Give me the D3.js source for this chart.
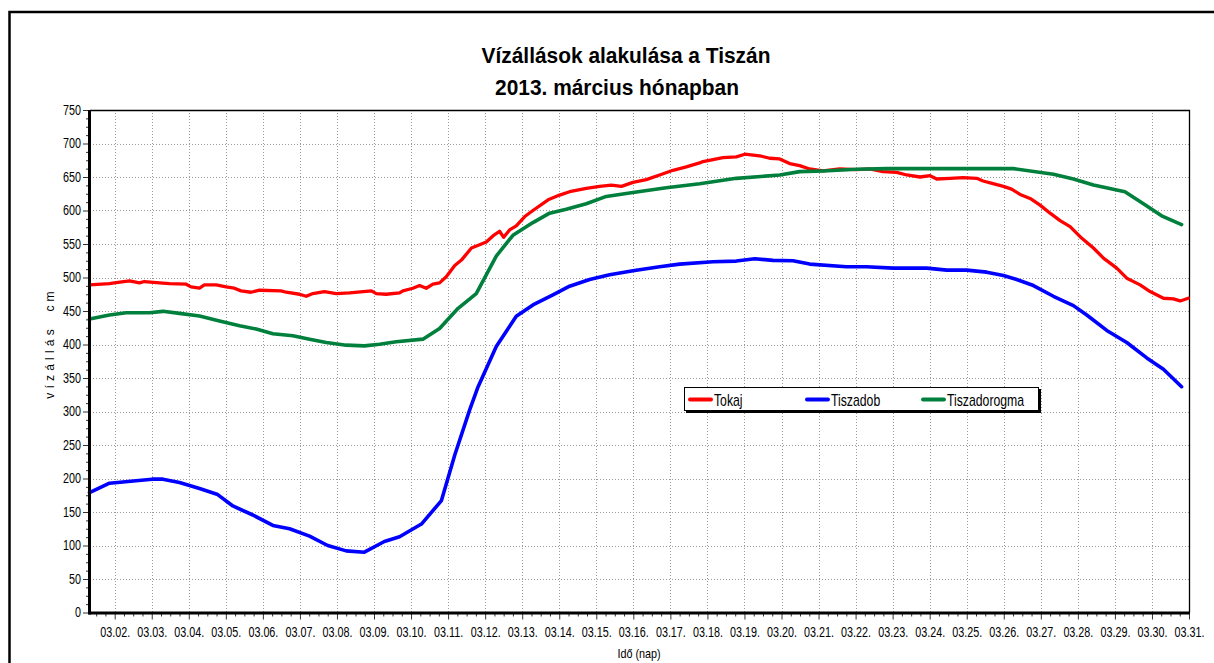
<!DOCTYPE html>
<html><head><meta charset="utf-8">
<script src="https://cdn.jsdelivr.net/npm/d3@7"></script>
<style>
body{margin:0;background:#fff;}
svg text{font-family:"Liberation Sans", Arial, sans-serif;fill:#000;}
</style></head>
<body><svg id="chart" width="1214" height="663"></svg>
<script>
// ---------------- data ----------------
const titleLines = ["Vízállások alakulása a Tiszán", "2013. március hónapban"];
const xAxisTitle = "Idő (nap)";
const yAxisTitle = "vízállás cm";
const xTickDays = [2,3,4,5,6,7,8,9,10,11,12,13,14,15,16,17,18,19,20,21,22,23,24,25,26,27,28,29,30,31];
const xTickLabels = ["03.02.","03.03.","03.04.","03.05.","03.06.","03.07.","03.08.","03.09.","03.10.","03.11.","03.12.","03.13.","03.14.","03.15.","03.16.","03.17.","03.18.","03.19.","03.20.","03.21.","03.22.","03.23.","03.24.","03.25.","03.26.","03.27.","03.28.","03.29.","03.30.","03.31."];
const yTickValues = [0,50,100,150,200,250,300,350,400,450,500,550,600,650,700,750];
const seriesNames = ["Tokaj", "Tiszadob", "Tiszadorogma"];

// day of March (fractional) / water level in cm
const tokajDays = [1.32,1.86,1.99,2.40,2.67,2.80,3.21,3.48,3.93,4.06,4.29,4.42,4.74,5.01,5.23,5.41,5.68,5.91,6.49,6.63,6.99,7.17,7.35,7.66,7.98,8.34,8.93,9.06,9.33,9.69,9.78,10.05,10.23,10.41,10.59,10.77,10.95,11.18,11.36,11.63,11.90,12.03,12.21,12.39,12.50,12.66,12.84,13.07,13.29,13.70,14.01,14.28,14.73,15.09,15.41,15.68,15.99,16.35,16.71,17.07,17.43,17.79,17.88,18.42,18.78,19.01,19.46,19.68,19.95,20.22,20.49,20.76,21.12,21.57,22.03,22.38,22.74,23.11,23.38,23.74,24.01,24.19,24.55,24.90,25.27,25.44,25.71,25.99,26.21,26.44,26.71,26.98,27.25,27.52,27.79,28.06,28.42,28.69,29.05,29.32,29.68,29.95,30.31,30.58,30.76,30.98];
const tokajValues = [489,491,492,495,492,494,492,491,490,486,484,489,489,486,484,480,478,481,480,478,475,472,476,479,476,477,480,476,475,477,480,484,488,484,490,492,501,518,526,544,550,553,562,569,560,571,577,591,600,616,623,628,633,636,638,636,642,646,653,660,665,671,673,679,680,684,681,678,677,670,667,662,659,662,661,662,658,657,653,650,652,647,648,649,648,644,640,636,632,624,618,608,596,585,576,561,544,529,514,499,489,479,469,468,465,469];

const tiszadobDays = [1.32,1.86,3.01,3.30,3.75,4.29,4.78,5.19,5.73,6.27,6.72,7.26,7.75,8.25,8.74,9.28,9.69,10.28,10.82,11.18,11.58,11.81,12.30,12.84,13.29,13.83,14.28,14.82,15.36,15.99,16.71,17.25,18.15,18.78,19.28,19.77,20.31,20.76,21.75,22.29,23.01,23.92,24.46,25.00,25.54,25.99,26.35,26.80,27.34,27.88,28.24,28.78,29.32,29.86,30.31,30.80];
const tiszadobValues = [179,193,199,199,194,185,176,159,145.5,130,125,114,100,92,90,106,113,132,167,235,302,337,397,442,459,474,487,497,504,510,516,520,523.5,524.5,528,525.5,525,520,516,516,514,514,511,511,508,503,497,488,472,458,444,421,403,380,363,337];

const tiszadorogmaDays = [1.32,1.86,2.31,2.94,3.30,3.75,4.29,4.83,5.37,5.82,6.27,6.81,7.26,7.71,8.25,8.74,9.15,9.60,10.32,10.77,11.27,11.76,12.30,12.75,13.29,13.74,14.19,14.73,15.27,15.99,16.89,17.79,18.78,19.95,20.49,21.12,22.03,22.84,26.26,27.34,27.88,28.42,29.27,29.77,30.26,30.80];
const tiszadorogmaValues = [438,444,447.5,447.5,449.5,446.5,442.5,435,428,423,416,413,408,403,399,398,400.5,404,408,424,454,476,532,563,582,596,602,610,621,627,634,640,648,653,658,659,661.5,662.5,662.5,654,647,638,628,610,592,579];

const seriesColors = ["#ff0000", "#0000ff", "#00803c"];

// ---------------- drawing ----------------
const svg = d3.select("#chart");
const W = 1214, H = 663;
const plot = {left: 90, right: 1189, top: 110, bottom: 612.5};

function condense(sel, k) {
  sel.each(function () {
    const w = this.getComputedTextLength();
    this.setAttribute("textLength", (w * k).toFixed(2));
    this.setAttribute("lengthAdjust", "spacingAndGlyphs");
  });
}

// outer frame
svg.append("path").attr("d", `M9.5,${H} V12 H${W}`).attr("fill", "none")
  .attr("stroke", "#000").attr("stroke-width", 2.5);

const x = d3.scaleLinear().domain([1 + 1/3, 31]).range([plot.left, plot.right]);
const y = d3.scaleLinear().domain([0, 750]).range([plot.bottom, plot.top]);

// grid
const grid = svg.append("g").attr("stroke", "#9a9a9a").attr("stroke-width", 1)
  .attr("stroke-dasharray", "1,2");
grid.selectAll("line.v").data(xTickDays.slice(0, -1)).join("line")
  .attr("x1", d => Math.round(x(d)) + 0.5).attr("x2", d => Math.round(x(d)) + 0.5)
  .attr("y1", plot.top).attr("y2", plot.bottom);
grid.selectAll("line.h").data(yTickValues.filter(v => v > 0 && v < 750)).join("line")
  .attr("x1", plot.left).attr("x2", plot.right)
  .attr("y1", d => Math.round(y(d)) + 0.5).attr("y2", d => Math.round(y(d)) + 0.5);

// plot frame (top, right)
svg.append("path")
  .attr("d", `M${plot.left},${plot.top + 0.5} H${plot.right + 0.5} V${plot.bottom}`)
  .attr("fill", "none").attr("stroke", "#000").attr("stroke-width", 1.3);

// series lines
const series = [
  {name: seriesNames[0], days: tokajDays, values: tokajValues, color: seriesColors[0]},
  {name: seriesNames[1], days: tiszadobDays, values: tiszadobValues, color: seriesColors[1]},
  {name: seriesNames[2], days: tiszadorogmaDays, values: tiszadorogmaValues, color: seriesColors[2]}
];
const line = d3.line().x(d => x(d[0])).y(d => y(d[1]));
const drawOrder = [1, 0, 2];
drawOrder.forEach(i => {
  const s = series[i];
  svg.append("path").datum(s.days.map((d, j) => [d, s.values[j]]))
    .attr("d", line).attr("fill", "none").attr("stroke", s.color)
    .attr("stroke-width", i === 0 ? 3.3 : 3.6).attr("stroke-linejoin", "round").attr("stroke-linecap", "round");
});

// x axis
const minorX = d3.range(Math.ceil((1 + 1/3) * 4), 31 * 4 + 1).map(v => v / 4).filter(v => v % 1 !== 0);
svg.append("g").attr("transform", `translate(0,${plot.bottom})`)
  .call(d3.axisBottom(x).tickValues(minorX).tickSize(4).tickFormat(""))
  .call(g => g.select(".domain").remove())
  .call(g => g.selectAll("line").attr("stroke", "#333").attr("stroke-width", 1));
const xAxisG = svg.append("g").attr("transform", `translate(0,${plot.bottom})`)
  .call(d3.axisBottom(x).tickValues(xTickDays).tickSize(7).tickPadding(8)
    .tickFormat((d, i) => xTickLabels[i]))
  .call(g => g.select(".domain").remove())
  .call(g => g.selectAll("line").attr("stroke", "#333").attr("stroke-width", 1));
xAxisG.selectAll("text").attr("font-size", 14).attr("font-family", "Liberation Sans, Arial, sans-serif")
  .attr("fill", "#000");
condense(xAxisG.selectAll("text"), 0.77);
svg.append("line").attr("x1", plot.left - 1.5).attr("x2", plot.right + 1)
  .attr("y1", plot.bottom + 0.5).attr("y2", plot.bottom + 0.5)
  .attr("stroke", "#000").attr("stroke-width", 3);

// y axis
const minorY = d3.range(0, 750.01, 12.5).filter(v => v % 50 !== 0);
svg.append("g").attr("transform", `translate(${plot.left},0)`)
  .call(d3.axisLeft(y).tickValues(minorY).tickSize(4).tickFormat(""))
  .call(g => g.select(".domain").remove())
  .call(g => g.selectAll("line").attr("stroke", "#333"));
const yAxisG = svg.append("g").attr("transform", `translate(${plot.left},0)`)
  .call(d3.axisLeft(y).tickValues(yTickValues).tickSize(7).tickPadding(2).tickFormat(d3.format("d")))
  .call(g => g.select(".domain").remove())
  .call(g => g.selectAll("line").attr("stroke", "#333"));
yAxisG.selectAll("text").attr("font-size", 14).attr("font-family", "Liberation Sans, Arial, sans-serif")
  .attr("fill", "#000");
condense(yAxisG.selectAll("text"), 0.77);
svg.append("line").attr("x1", plot.left - 0.5).attr("x2", plot.left - 0.5)
  .attr("y1", plot.top).attr("y2", plot.bottom + 2)
  .attr("stroke", "#000").attr("stroke-width", 3);

// titles
const t = svg.append("g").attr("font-weight", "bold").attr("font-size", 22).attr("text-anchor", "middle");
t.append("text").attr("x", 626).attr("y", 63).text(titleLines[0]);
t.append("text").attr("x", 617).attr("y", 95).text(titleLines[1]);
condense(t.selectAll("text"), 0.95);

const xt = svg.append("text").attr("x", 639).attr("y", 658).attr("text-anchor", "middle")
  .attr("font-size", 13).text(xAxisTitle);
condense(xt, 0.83);

svg.append("text").attr("transform", "translate(54,343) rotate(-90)")
  .attr("text-anchor", "middle").attr("font-size", 12).attr("letter-spacing", 4.2)
  .attr("word-spacing", 6).text(yAxisTitle);

// legend
const lg = svg.append("g");
lg.append("rect").attr("x", 686).attr("y", 389).attr("width", 355).attr("height", 24).attr("fill", "#000");
lg.append("rect").attr("x", 684.5).attr("y", 387.5).attr("width", 354).attr("height", 23)
  .attr("fill", "#fff").attr("stroke", "#000").attr("stroke-width", 1);
const legendX = [690, 807, 923];
series.forEach((s, i) => {
  lg.append("line").attr("x1", legendX[i]).attr("x2", legendX[i] + 21)
    .attr("y1", 399.5).attr("y2", 399.5).attr("stroke", s.color).attr("stroke-width", 4)
    .attr("stroke-linecap", "round");
  const tx = lg.append("text").attr("x", legendX[i] + 24).attr("y", 405.5)
    .attr("font-size", 17).text(s.name);
  condense(tx, 0.72);
});
</script>
</body></html>
